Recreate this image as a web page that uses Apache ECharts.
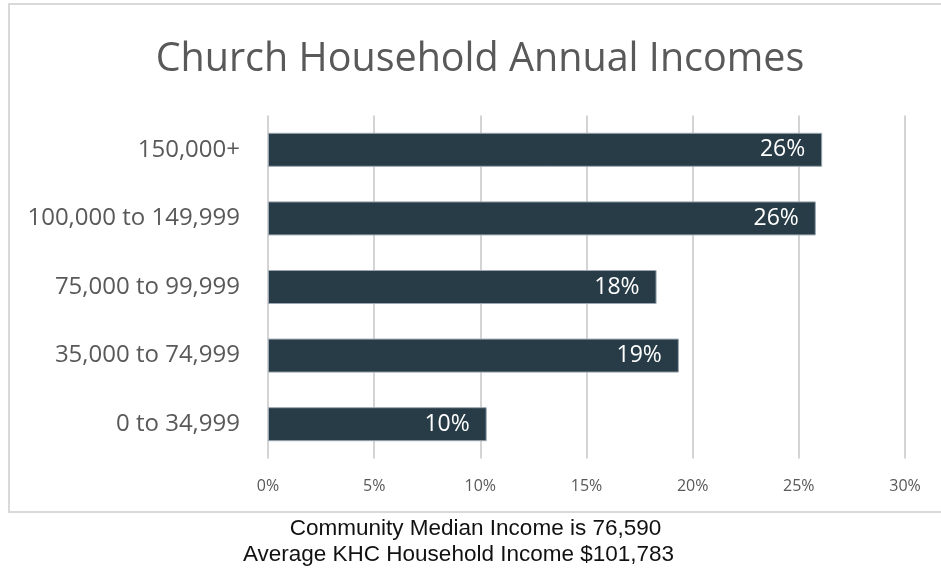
<!DOCTYPE html>
<html>
<head>
<meta charset="utf-8">
<script src="https://cdn.jsdelivr.net/npm/echarts@6/dist/echarts.min.js"></script>
<style>
  html, body { margin: 0; padding: 0; background: #fff; }
  #chart { width: 941px; height: 569px; }
</style>
</head>
<body>
<div id="chart"></div>
<script>
// Income brackets, listed bottom to top as the category axis draws them
const categories = ['0 to 34,999', '35,000 to 74,999', '75,000 to 99,999', '100,000 to 149,999', '150,000+'];
// Share of church households in each bracket (%)
const shares = [10.3, 19.35, 18.3, 25.8, 26.1];
// Percentage axis ticks
const axisMin = 0;
const axisMax = 30;
const axisStep = 5;
const titleText = 'Church Household Annual Incomes';
const noteLines = ['Community Median Income is 76,590', 'Average KHC Household Income $101,783'];

const chart = echarts.init(document.getElementById('chart'), null, { renderer: 'canvas' });

chart.setOption({
  backgroundColor: '#ffffff',
  animation: false,
  title: {
    text: titleText,
    left: 475,
    top: 35,
    textAlign: 'center',
    textStyle: {
      fontFamily: 'Open Sans',
      fontSize: 39.5,
      fontWeight: 'normal',
      color: '#595959'
    }
  },
  grid: {
    left: 268,
    right: 36,
    top: 115.5,
    bottom: 110.5,
    containLabel: false
  },
  xAxis: {
    type: 'value',
    min: axisMin,
    max: axisMax,
    interval: axisStep,
    axisLine: { show: false },
    axisTick: { show: false },
    splitLine: { show: true, lineStyle: { color: '#d4d4d4', width: 2 } },
    axisLabel: {
      formatter: v => v + '%',
      fontFamily: 'Open Sans',
      fontSize: 16,
      color: '#595959',
      margin: 20
    }
  },
  yAxis: {
    type: 'category',
    data: categories,
    axisLine: { show: false },
    axisTick: { show: false },
    axisLabel: {
      fontFamily: 'Open Sans',
      fontSize: 24,
      color: '#595959',
      margin: 28,
      verticalAlign: 'middle',
      lineHeight: 28,
      padding: [4, 0, 0, 0]
    }
  },
  series: [{
    type: 'bar',
    data: shares,
    barWidth: 34,
    itemStyle: {
      color: '#283c47',
      borderColor: '#9aa7b0',
      borderWidth: 1
    },
    label: {
      show: true,
      position: 'insideRight',
      distance: 17,
      formatter: p => Math.round(p.value) + '%',
      fontFamily: 'Open Sans',
      fontSize: 23,
      color: '#ffffff'
    }
  }],
  graphic: [
    {
      type: 'rect',
      silent: true,
      z: -1,
      shape: { x: 9, y: 4, width: 940, height: 508 },
      style: { fill: 'none', stroke: '#d9d9d9', lineWidth: 2 }
    },
    {
      type: 'text',
      x: 475.5,
      y: 529,
      style: {
        text: noteLines[0],
        fontFamily: 'Liberation Sans',
        fontSize: 22.5,
        fill: '#111111',
        textAlign: 'center',
        textVerticalAlign: 'middle'
      }
    },
    {
      type: 'text',
      x: 458.5,
      y: 555,
      style: {
        text: noteLines[1],
        fontFamily: 'Liberation Sans',
        fontSize: 22.5,
        fill: '#111111',
        textAlign: 'center',
        textVerticalAlign: 'middle'
      }
    }
  ]
});
</script>
</body>
</html>
